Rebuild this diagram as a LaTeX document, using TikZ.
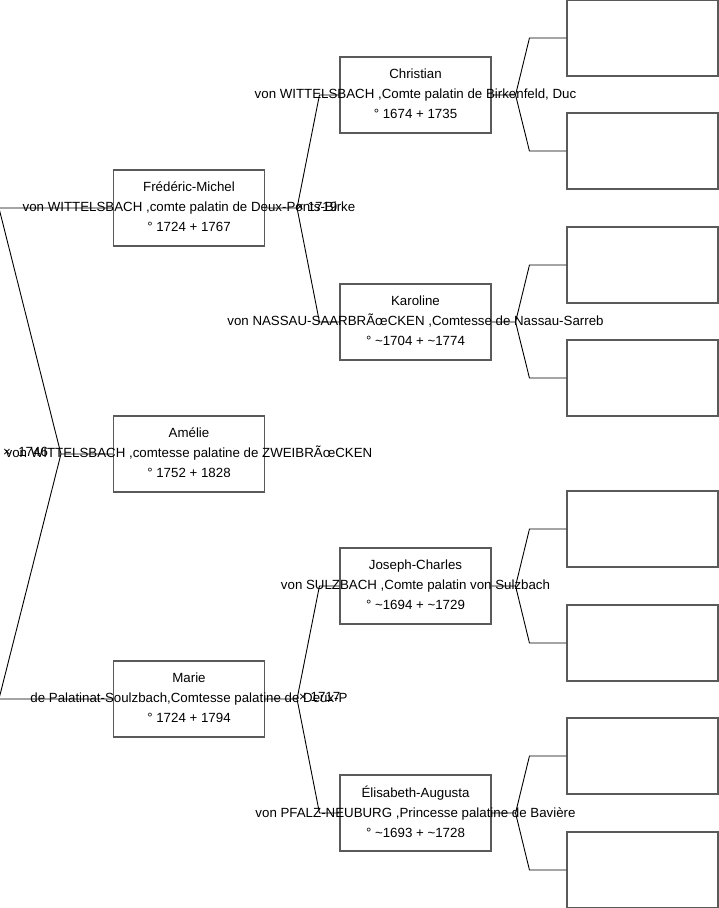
\documentclass[tikz,border=0pt]{standalone}
\usepackage{fontspec}
\setmainfont{Liberation Sans}
\usetikzlibrary{positioning,calc}
\definecolor{frame}{HTML}{5A5A5A}
\tikzset{
  person/.style={draw=frame,line width=1.1pt,minimum width=151pt,minimum height=76pt,inner sep=0pt},
  who/.style={font=\fontsize{13.3}{20}\selectfont,align=center,inner sep=0pt},
  fork/.style={black,line width=0.9pt},
  wed/.style={font=\fontsize{13.3}{15}\selectfont,anchor=west,inner sep=0pt},
}

\begin{document}
\begin{tikzpicture}[x=1pt,y=-1pt]
\useasboundingbox (0,0) rectangle (719,908);
% first column
\node[person] (fm) at (189,208) {};
\node[person] (am) at (189,454) {};
\node[person] (ma) at (189,699) {};
% parents
\node[person] (ch) at (415.5,95) {};
\node[person] (ka) at (415.5,322) {};
\node[person] (jc) at (415.5,586) {};
\node[person] (el) at (415.5,813) {};
% grand-parents, left empty
\node[person] (g1) at (642.5,38) {};
\node[person] (g2) at (642.5,151) {};
\node[person] (g3) at (642.5,265) {};
\node[person] (g4) at (642.5,378) {};
\node[person] (g5) at (642.5,529) {};
\node[person] (g6) at (642.5,643) {};
\node[person] (g7) at (642.5,756) {};
\node[person] (g8) at (642.5,870) {};
% forks
\draw[fork] (am.west) -- ++(-52,0) coordinate (f0) -- ($(fm.west)+(-114,0)$) -- (fm.west);
\draw[fork] (f0) -- ($(ma.west)+(-114,0)$) -- (ma.west);
\draw[fork] (fm.east) -- ++(32,0) coordinate (f1) -- ($(ch.west)+(-20,0)$) -- (ch.west);
\draw[fork] (f1) -- ($(ka.west)+(-20,0)$) -- (ka.west);
\draw[fork] (ma.east) -- ++(32,0) coordinate (f2) -- ($(jc.west)+(-20,0)$) -- (jc.west);
\draw[fork] (f2) -- ($(el.west)+(-20,0)$) -- (el.west);
\draw[fork] (ch.east) -- ++(24,0) coordinate (f3) -- ($(g1.west)+(-37,0)$) -- (g1.west);
\draw[fork] (f3) -- ($(g2.west)+(-37,0)$) -- (g2.west);
\draw[fork] (ka.east) -- ++(24,0) coordinate (f4) -- ($(g3.west)+(-37,0)$) -- (g3.west);
\draw[fork] (f4) -- ($(g4.west)+(-37,0)$) -- (g4.west);
\draw[fork] (jc.east) -- ++(24,0) coordinate (f5) -- ($(g5.west)+(-37,0)$) -- (g5.west);
\draw[fork] (f5) -- ($(g6.west)+(-37,0)$) -- (g6.west);
\draw[fork] (el.east) -- ++(24,0) coordinate (f6) -- ($(g7.west)+(-37,0)$) -- (g7.west);
\draw[fork] (f6) -- ($(g8.west)+(-37,0)$) -- (g8.west);
% texts
\node[who] (fmt) at ([yshift=1pt]fm) {Frédéric-Michel\\von WITTELSBACH ,comte palatin de Deux-Ponts-Birke\\° 1724 + 1767};
\node[who] (amt) at ([yshift=1pt]am) {Amélie\\von WITTELSBACH ,comtesse palatine de ZWEIBRÃœCKEN\\° 1752 + 1828};
\node[who] (mat) at ([yshift=1pt]ma) {Marie\\de Palatinat-Soulzbach,Comtesse palatine de Deux-P\\° 1724 + 1794};
\node[who] (cht) at ([yshift=1pt]ch) {Christian\\von WITTELSBACH ,Comte palatin de Birkenfeld, Duc\\° 1674 + 1735};
\node[who] (kat) at ([yshift=1pt]ka) {Karoline\\von NASSAU-SAARBRÃœCKEN ,Comtesse de Nassau-Sarreb\\° \textasciitilde1704 + \textasciitilde1774};
\node[who] (jct) at ([yshift=1pt]jc) {Joseph-Charles\\von SULZBACH ,Comte palatin von Sulzbach\\° \textasciitilde1694 + \textasciitilde1729};
\node[who] (elt) at ([yshift=1pt]el) {Élisabeth-Augusta\\von PFALZ-NEUBURG ,Princesse palatine de Bavière\\° \textasciitilde1693 + \textasciitilde1728};
% weddings
\node[wed] (w0) at (3,452) {×\ \ 1746};
\node[wed] (w1) at (296,207) {× 1719};
\node[wed] (w2) at (299,697) {× 1717};
\end{tikzpicture}
\end{document}
